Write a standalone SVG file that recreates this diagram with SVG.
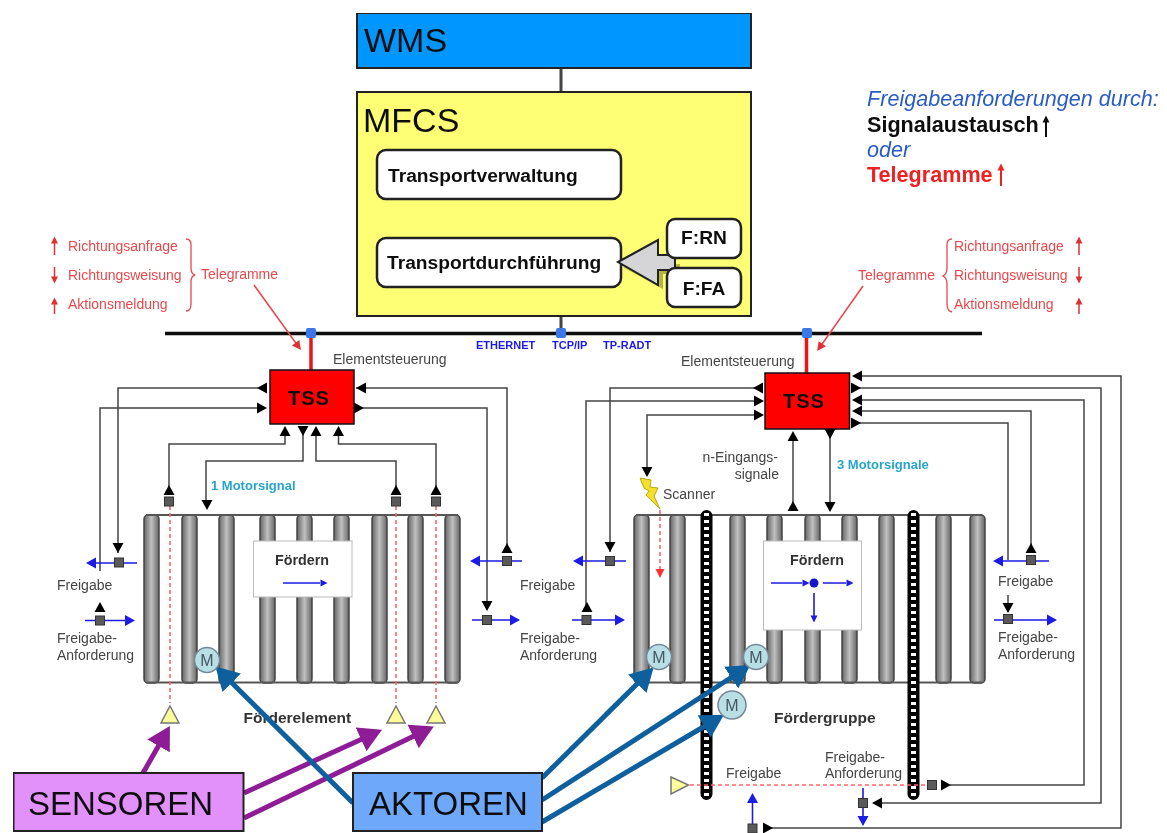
<svg xmlns="http://www.w3.org/2000/svg" xmlns:xlink="http://www.w3.org/1999/xlink" width="1167" height="833" viewBox="0 0 1167 833">
<style>
text{font-family:"Liberation Sans",Arial,sans-serif}
.box{stroke:#222;stroke-width:2}
.big{font-size:34px;fill:#111}
.rb{fill:#fff;stroke:#222;stroke-width:2.5}
.b18{font-size:19.2px;font-weight:bold;fill:#111}
.lbl{font-size:14px;fill:#444}
.rt{font-size:14px;fill:#e8484c}
.net{font-size:11px;fill:#1a1ae6;font-weight:bold}
.mot{font-size:13px;fill:#28a5c9;font-weight:bold}
.tss{fill:#f00;stroke:#111;stroke-width:1.5}
.tt{font-size:20px;font-weight:bold;letter-spacing:1px;text-anchor:middle;fill:#111}
.w{fill:none;stroke:#444;stroke-width:1.5}
.bl{fill:none;stroke:#1a1ae6;stroke-width:1.6}
.rd{fill:none;stroke:#f66;stroke-width:1.6;stroke-dasharray:4 3}
.roller{fill:url(#rg);stroke:#444;stroke-width:1.5}
.frame{fill:none;stroke:#555;stroke-width:2}
.sq{fill:#5a5a5a;stroke:#333;stroke-width:1}
.ft{fill:#fff;stroke:#bbb;stroke-width:1}
.mo{fill:#b8e0e4;stroke:#789;stroke-width:1.5}
.mt{font-size:16px;fill:#456;text-anchor:middle}
.tri{fill:#ffff99;stroke:#777;stroke-width:1.5}
.pp{stroke:#8e1f96;stroke-width:5;fill:none}
.bp{stroke:#0a5f9e;stroke-width:5;fill:none}
.lb{font-size:15.5px;font-weight:bold;fill:#333}
.fd{font-size:14.3px;font-weight:bold;fill:#333}
.hd{font-size:21.6px}
</style>
<defs>
<filter id="soft" x="0" y="0" width="1" height="1" filterUnits="objectBoundingBox"><feGaussianBlur stdDeviation="0.55"/></filter>
<linearGradient id="rg" x1="0" x2="1" y1="0" y2="0"><stop offset="0" stop-color="#666"/><stop offset=".5" stop-color="#c0c0c0"/><stop offset="1" stop-color="#666"/></linearGradient>
<path id="t" d="M-5 -5.5L5 0L-5 5.5z"/>
<path id="s" d="M-3.5 -3.5L3.5 0L-3.5 3.5z"/>
<path id="r" d="M-4 -4.5L5 0L-4 4.5z"/>
<marker id="pa" markerUnits="userSpaceOnUse" markerWidth="24" markerHeight="26" refX="1" refY="13" orient="auto"><path d="M0 0L23 13L0 26z" fill="#8e1f96"/></marker>
<marker id="ba" markerUnits="userSpaceOnUse" markerWidth="24" markerHeight="26" refX="1" refY="13" orient="auto"><path d="M0 0L23 13L0 26z" fill="#0a5f9e"/></marker>
</defs>
<rect width="1167" height="833" fill="#fff"/>
<g filter="url(#soft)">

<g id="conveyor-left">
<rect class="roller" x="144" y="515" width="15" height="168" rx="4"/>
<rect class="roller" x="182" y="515" width="15" height="168" rx="4"/>
<rect class="roller" x="219" y="515" width="15" height="168" rx="4"/>
<rect class="roller" x="260" y="515" width="15" height="168" rx="4"/>
<rect class="roller" x="297" y="515" width="15" height="168" rx="4"/>
<rect class="roller" x="334" y="515" width="15" height="168" rx="4"/>
<rect class="roller" x="372" y="515" width="15" height="168" rx="4"/>
<rect class="roller" x="408" y="515" width="15" height="168" rx="4"/>
<rect class="roller" x="445" y="515" width="15" height="168" rx="4"/>
<path class="frame" d="M146 515H458M146 682.500H458"/>
<rect class="ft" x="253.500" y="541" width="98.500" height="56"/>
<text class="fd" x="275" y="565">Fördern</text>
<path class="bl" d="M283 583H320"/><use href="#s" transform="translate(324,583)" fill="#1a1ae6"/>
<text class="lb" x="243.500" y="723">Förderelement</text>
</g>

<g id="conveyor-right">
<rect class="roller" x="634" y="515" width="15" height="168" rx="4"/>
<rect class="roller" x="670" y="515" width="15" height="168" rx="4"/>
<rect class="roller" x="730" y="515" width="15" height="168" rx="4"/>
<rect class="roller" x="767" y="515" width="15" height="168" rx="4"/>
<rect class="roller" x="805" y="515" width="15" height="168" rx="4"/>
<rect class="roller" x="842" y="515" width="15" height="168" rx="4"/>
<rect class="roller" x="879" y="515" width="15" height="168" rx="4"/>
<rect class="roller" x="936" y="515" width="15" height="168" rx="4"/>
<rect class="roller" x="970" y="515" width="15" height="168" rx="4"/>
<path class="frame" d="M636 515H982M636 682.500H982"/>
<rect class="ft" x="763.500" y="541" width="98" height="89"/>
<text class="fd" x="790" y="565">Fördern</text>
<path class="bl" d="M771 583H802M823 583H846M814 593V616"/>
<use href="#s" transform="translate(806,583)" fill="#1a1ae6"/><use href="#s" transform="translate(850,583)" fill="#1a1ae6"/><use href="#s" transform="translate(814,619) rotate(90)" fill="#1a1ae6"/>
<circle cx="814" cy="583" r="4.500" fill="#1414c8"/>
<text class="lb" x="774" y="723">Fördergruppe</text>
</g>

<g id="chains">
<path d="M706.500 516V794M913.500 516V794" stroke="#000" stroke-width="12" stroke-linecap="round" fill="none"/>
<path d="M706.500 513V796M913.500 513V796" stroke="#fff" stroke-width="5" stroke-dasharray="3 4" fill="none"/>
</g>

<g id="connectors">
<path d="M561 68V92M561 316V333" stroke="#444" stroke-width="3" fill="none"/>
<path d="M165 333.500H982" stroke="#111" stroke-width="3.500" fill="none"/>
<path d="M311 333V370M806.500 333V373" stroke="#e81818" stroke-width="3.500" fill="none"/>
<path d="M254 285L298 346M863 286L820 347" stroke="#e8484c" stroke-width="1.600" fill="none"/>
<use href="#r" transform="translate(298,346) rotate(54)" fill="#e03030"/><use href="#r" transform="translate(820,347) rotate(125)" fill="#e03030"/>

<path class="w" d="M258 388H118V553"/>
<path class="w" d="M262 408H100V571"/>
<path class="w" d="M356 388H507V552"/>
<path class="w" d="M359 408H487V610"/>
<path class="w" d="M285 432V444H169V495"/>
<path class="w" d="M303 432V461H206V505"/>
<path class="w" d="M316 432V461H396V495"/>
<path class="w" d="M338.500 432V444H436V495"/>

<use href="#t" transform="translate(262,388) rotate(180)"/><use href="#t" transform="translate(262,408)"/>
<use href="#t" transform="translate(361,388) rotate(180)"/><use href="#t" transform="translate(359,408)"/>
<use href="#t" transform="translate(285,431) rotate(270)"/><use href="#t" transform="translate(303,431) rotate(90)"/>
<use href="#t" transform="translate(316,431) rotate(270)"/><use href="#t" transform="translate(338.500,431) rotate(270)"/>
<use href="#t" transform="translate(169,490) rotate(270)"/><use href="#t" transform="translate(396,490) rotate(270)"/>
<use href="#t" transform="translate(436,490) rotate(270)"/><use href="#t" transform="translate(207,505) rotate(90)"/>
<use href="#t" transform="translate(118,548) rotate(90)"/><use href="#t" transform="translate(100,607) rotate(270)"/>
<use href="#t" transform="translate(507,548) rotate(270)"/><use href="#t" transform="translate(487,606) rotate(90)"/>

<path class="w" d="M755 388H610V552"/>
<path class="w" d="M755 401H586V612"/>
<path class="w" d="M755 415H647V470"/>
<path class="w" d="M858 376H1121V828H770"/>
<path class="w" d="M858 388H1101V803H880"/>
<path class="w" d="M858 400H1084V785H950"/>
<path class="w" d="M858 411H1031V552"/>
<path class="w" d="M858 423H1008V560M1008 595V612"/>
<path class="w" d="M793 436V506M830 434V506"/>

<use href="#t" transform="translate(758,388) rotate(180)"/><use href="#t" transform="translate(759,401)"/><use href="#t" transform="translate(759,415)"/>
<use href="#t" transform="translate(857,376) rotate(180)"/><use href="#t" transform="translate(856,388)"/><use href="#t" transform="translate(857,400) rotate(180)"/>
<use href="#t" transform="translate(857,411) rotate(180)"/><use href="#t" transform="translate(856,423)"/>
<use href="#t" transform="translate(793,436) rotate(270)"/><use href="#t" transform="translate(830,434) rotate(90)"/>
<use href="#t" transform="translate(793,506) rotate(270)"/><use href="#t" transform="translate(830,507) rotate(90)"/>
<use href="#t" transform="translate(647,472) rotate(90)"/>
<use href="#t" transform="translate(610,547) rotate(90)"/><use href="#t" transform="translate(587,607) rotate(270)"/>
<use href="#t" transform="translate(1031,548) rotate(270)"/><use href="#t" transform="translate(1008,608) rotate(90)"/>
<use href="#t" transform="translate(768,828)"/><use href="#t" transform="translate(877,803) rotate(180)"/><use href="#t" transform="translate(946,785)"/>

<path class="bl" d="M137 563H90M85 620.500H130M522 561H474M472 620H516M626 561H578M572 620H620M1049 561H997M994 620H1052M752.500 828V797M863 788V822"/>
<g fill="#1a1ae6">
<use href="#t" transform="translate(91,563) rotate(180)"/><use href="#t" transform="translate(130,620.500)"/>
<use href="#t" transform="translate(475,561) rotate(180)"/><use href="#t" transform="translate(515,620)"/>
<use href="#t" transform="translate(578,561) rotate(180)"/><use href="#t" transform="translate(620,620)"/>
<use href="#t" transform="translate(998,561) rotate(180)"/><use href="#t" transform="translate(1052,620)"/>
<use href="#t" transform="translate(752.500,798) rotate(270)"/><use href="#t" transform="translate(863,821) rotate(90)"/>
</g>

<path class="rd" d="M170 506V703M396 506V703M436 506V703M660 510V572M690 785H927"/>
<use href="#r" transform="translate(660,573) rotate(90)" fill="#f33"/>

<path class="pp" d="M143 773L159 745" marker-end="url(#pa)"/>
<path class="pp" d="M244 793L362 739" marker-end="url(#pa)"/>
<path class="pp" d="M244 818L414 736" marker-end="url(#pa)"/>
<path class="bp" d="M353 803L231 682" marker-end="url(#ba)"/>
<path class="bp" d="M542 778L638 683" marker-end="url(#ba)"/>
<path class="bp" d="M542 800L732 677" marker-end="url(#ba)"/>
<path class="bp" d="M542 822L705 726" marker-end="url(#ba)"/>
</g>

<g id="ports">
<rect x="306" y="328" width="10" height="10" rx="2" fill="#3a78e6"/>
<rect x="556" y="328" width="10" height="10" rx="2" fill="#3a78e6"/>
<rect x="802" y="328" width="10" height="10" rx="2" fill="#3a78e6"/>
<rect class="sq" x="164.500" y="497" width="9" height="9"/><rect class="sq" x="391.500" y="497" width="9" height="9"/><rect class="sq" x="431.500" y="497" width="9" height="9"/>
<rect class="sq" x="114.500" y="558" width="9" height="9"/><rect class="sq" x="95.500" y="616" width="9" height="9"/>
<rect class="sq" x="502.500" y="556.500" width="9" height="9"/><rect class="sq" x="482.500" y="615.500" width="9" height="9"/>
<rect class="sq" x="605.500" y="556.500" width="9" height="9"/><rect class="sq" x="582" y="615.500" width="9" height="9"/>
<rect class="sq" x="1026.500" y="555.500" width="9" height="9"/><rect class="sq" x="1003.500" y="614.500" width="9" height="9"/>
<rect class="sq" x="927.500" y="780.500" width="9" height="9"/><rect class="sq" x="858.500" y="798.500" width="9" height="9"/><rect class="sq" x="748" y="824" width="9" height="9"/>
</g>

<g id="wms"><rect class="box" x="357" y="13" width="394" height="55" fill="#0096ff"/><text class="big" x="364" y="52">WMS</text></g>
<g id="mfcs"><rect class="box" x="357" y="92" width="394" height="224" fill="#ffff75"/><text class="big" x="363" y="132">MFCS</text></g>
<g id="transportverwaltung"><rect class="rb" x="377" y="150" width="244" height="49" rx="9"/><text class="b18" x="388" y="182">Transportverwaltung</text></g>
<g id="transportdurchfuehrung"><rect class="rb" x="377" y="238" width="244" height="49" rx="9"/><text class="b18" x="387" y="269">Transportdurchführung</text></g>
<g id="block-arrow"><path d="M623 267L663 289V274H680V264z" fill="#77771a" opacity=".55"/><path d="M618 262L658 240V255H675V270H658V285z" fill="#d5d5d8" stroke="#222" stroke-width="2"/></g>
<g id="f-rn"><rect class="rb" x="667" y="219" width="74" height="39" rx="8"/><text class="b18" x="704" y="244" text-anchor="middle">F:RN</text></g>
<g id="f-fa"><rect class="rb" x="667" y="268" width="74" height="39" rx="8"/><text class="b18" x="704" y="295" text-anchor="middle">F:FA</text></g>

<g id="tss-left"><rect class="tss" x="270" y="370" width="84" height="54"/><text class="tt" x="309" y="405">TSS</text></g>
<g id="tss-right"><rect class="tss" x="765" y="373" width="84.500" height="56"/><text class="tt" x="804" y="408">TSS</text></g>

<g id="motors">
<circle class="mo" cx="207" cy="660" r="12.500"/><text class="mt" x="207" y="666">M</text>
<circle class="mo" cx="659" cy="657" r="12.500"/><text class="mt" x="659" y="663">M</text>
<circle class="mo" cx="756" cy="657" r="12.500"/><text class="mt" x="756" y="663">M</text>
<circle class="mo" cx="732" cy="705" r="14"/><text class="mt" x="732" y="711">M</text>
</g>
<g id="sensors">
<path class="tri" d="M170 706L179 723H161z"/><path class="tri" d="M396 706L405 723H387z"/><path class="tri" d="M436 706L445 723H427z"/>
<path class="tri" d="M671 777L688.500 785L671 794z"/>
<path d="M640 478L651 480L650 487L658 488L654 496L660 509L646 495L649 491L644 488z" fill="#f2e02a" stroke="#b5a816" stroke-width="1"/>
</g>

<g id="sensoren"><rect class="box" x="13.500" y="773" width="230" height="58" fill="#e291fb"/><text x="28" y="815" style="font-size:33px" fill="#111">SENSOREN</text></g>
<g id="aktoren"><rect class="box" x="353" y="773" width="189" height="58" fill="#6ea8fb"/><text x="369" y="815" style="font-size:33px" fill="#111">AKTOREN</text></g>

<g id="labels">
<text class="net" x="476" y="349">ETHERNET</text><text class="net" x="552" y="349">TCP/IP</text><text class="net" x="603" y="349">TP-RADT</text>
<text class="lbl" x="333" y="364">Elementsteuerung</text><text class="lbl" x="681" y="366">Elementsteuerung</text>
<text class="mot" x="211" y="490">1 Motorsignal</text><text class="mot" x="837" y="469">3 Motorsignale</text>
<text class="lbl" x="778" y="462" text-anchor="end">n-Eingangs-</text><text class="lbl" x="779" y="479" text-anchor="end">signale</text>
<text class="lbl" x="663" y="499">Scanner</text>
<text class="lbl" x="57" y="590">Freigabe</text><text class="lbl" x="57" y="643">Freigabe-</text><text class="lbl" x="57" y="660">Anforderung</text>
<text class="lbl" x="520" y="590">Freigabe</text><text class="lbl" x="520" y="643">Freigabe-</text><text class="lbl" x="520" y="660">Anforderung</text>
<text class="lbl" x="998" y="586">Freigabe</text><text class="lbl" x="998" y="642">Freigabe-</text><text class="lbl" x="998" y="659">Anforderung</text>
<text class="lbl" x="726" y="778">Freigabe</text><text class="lbl" x="825" y="762">Freigabe-</text><text class="lbl" x="825" y="778">Anforderung</text>

<text class="rt" x="68" y="251">Richtungsanfrage</text><text class="rt" x="68" y="280">Richtungsweisung</text><text class="rt" x="68" y="309">Aktionsmeldung</text>
<text class="rt" x="201" y="279">Telegramme</text>
<text class="rt" x="954" y="251">Richtungsanfrage</text><text class="rt" x="954" y="280">Richtungsweisung</text><text class="rt" x="954" y="309">Aktionsmeldung</text>
<text class="rt" x="858" y="280">Telegramme</text>
<path d="M186 239Q191 239 191 245V268Q191 274 195 275Q191 276 191 282V304Q191 311 186 311" fill="none" stroke="#e8484c" stroke-width="1.300"/>
<path d="M952 239Q947 239 947 245V268Q947 274 943 276Q947 278 947 284V304Q947 311 952 312" fill="none" stroke="#e8484c" stroke-width="1.300"/>
<path d="M54.500 255V240M54.500 267V279M54.500 314V301M1079 255V240M1079 267V279M1079 314V301" stroke="#e03030" stroke-width="1.500" fill="none"/>
<g fill="#e03030">
<use href="#s" transform="translate(54.500,240) rotate(270)"/><use href="#s" transform="translate(54.500,280) rotate(90)"/><use href="#s" transform="translate(54.500,301) rotate(270)"/>
<use href="#s" transform="translate(1079,240) rotate(270)"/><use href="#s" transform="translate(1079,280) rotate(90)"/><use href="#s" transform="translate(1079,301) rotate(270)"/>
</g>
<text class="hd" x="867" y="106" style="font-style:italic" fill="#2b5cc4">Freigabeanforderungen durch:</text>
<text class="hd" x="867" y="132" style="font-weight:bold" fill="#111">Signalaustausch</text>
<text class="hd" x="867" y="157" style="font-style:italic" fill="#2b5cc4">oder</text>
<text class="hd" x="867" y="182" style="font-weight:bold" fill="#ee2020">Telegramme</text>
<path d="M1046 137V120" stroke="#111" stroke-width="2" fill="none"/><use href="#s" transform="translate(1046,119) rotate(270)" fill="#111"/>
<path d="M1001 186V168" stroke="#ee2020" stroke-width="2" fill="none"/><use href="#s" transform="translate(1001,167) rotate(270)" fill="#ee2020"/>
</g>
</g>
</svg>
